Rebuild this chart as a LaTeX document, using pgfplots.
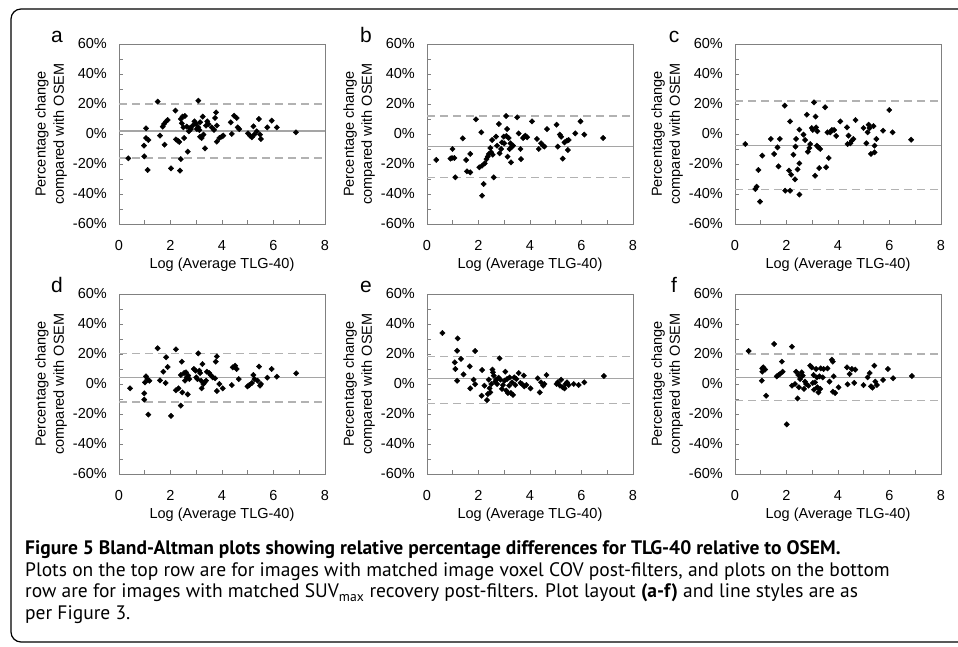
\documentclass[border=0pt]{standalone}
\usepackage{pgfplots}
\pgfplotsset{compat=1.18}
\usepackage{fontspec}
\setmainfont{Liberation Sans}
\newfontfamily\capfont{PT Sans}
\definecolor{axgray}{RGB}{128,128,128}
\definecolor{meangray}{RGB}{165,165,165}
\definecolor{dashgray}{RGB}{178,178,178}
\newcommand{\cf}{\fontsize{14.5}{18}\selectfont}
\pgfplotsset{
  ba/.style={
    scale only axis, width=206pt, height=180pt,
    xmin=0, xmax=8, ymin=-60, ymax=60,
    xtick={0,1,...,8}, xticklabels={0,,2,,4,,6,,8},
    ytick={-60,-50,...,60},
    yticklabels={-60\%,,-40\%,,-20\%,,0\%,,20\%,,40\%,,60\%},
    tick align=inside, tick pos=left, major tick length=3.5pt,
    axis line style={draw=axgray, line width=0.9pt},
    tick style={draw=axgray, line width=0.9pt},
    tick label style={font=\cf, inner sep=0pt},
    xticklabel style={anchor=north, yshift=-16pt},
    yticklabel style={anchor=east, xshift=-12pt},
    anchor=south west,
  },
  meanl/.style={draw=meangray, line width=1.6pt, no marks},
  limitl/.style={draw=dashgray, line width=1.6pt, dash pattern=on 8pt off 5pt, no marks},
  pts/.style={only marks, mark=square*, mark size=1.9pt, mark options={rotate=45, fill=black, draw=black}},
}
\begin{document}
\begin{tikzpicture}
\path[use as bounding box] (0pt,0pt) rectangle (958pt,647pt);
\draw[line width=1.2pt, rounded corners=10pt] (990pt,5pt) -- (11pt,5pt) -- (11pt,638pt) -- (990pt,638pt);

% ---------------- panel a ----------------
\begin{axis}[ba, at={(119pt,423pt)}]
\addplot[limitl] coordinates {(0,20) (8,20)};
\addplot[limitl] coordinates {(0,-16) (8,-16)};
\addplot[meanl] coordinates {(0,2) (8,2)};
\addplot[pts] table {
x y
0.36 -16.2
0.97 -7.8
0.98 -14.9
1.05 3.8
1.05 -2.7
1.11 -24
1.14 -4
1.50 21.6
1.59 -1.1
1.70 4.9
1.75 6.7
1.77 -7.1
1.83 8.4
1.89 9.3
2.02 -22.9
2.19 15.6
2.21 -3.6
2.28 -4.4
2.34 -5.3
2.37 -24.4
2.40 -16.7
2.40 10
2.44 7.1
2.47 11.6
2.50 4.4
2.53 -2.7
2.56 12
2.63 4.9
2.67 -11.8
2.71 1.8
2.76 4
2.79 3.3
2.86 5.6
2.93 8.4
2.99 6.7
3.02 3.3
3.08 4.4
3.08 22.2
3.12 2.7
3.15 7.8
3.15 -1.8
3.21 -2.7
3.25 11.6
3.28 -0.4
3.34 -9.6
3.38 5.6
3.43 8.4
3.47 6.7
3.60 4.4
3.69 2.7
3.73 10.7
3.77 14.4
3.80 5.6
3.80 -5.1
3.90 -2.7
3.99 -1.8
4.05 -1.1
4.34 7.8
4.38 0
4.47 12.2
4.57 10.7
4.61 4.4
4.67 3.3
5.01 0.4
5.09 -1.1
5.16 -2.2
5.22 5.1
5.25 -0.4
5.35 1.8
5.43 10
5.48 -0.4
5.51 -3.3
5.76 4.4
5.93 8.9
6.13 4.4
6.87 1.1
};
\end{axis}

% ---------------- panel b ----------------
\begin{axis}[ba, at={(427pt,423pt)}]
\addplot[limitl] coordinates {(0,12) (8,12)};
\addplot[limitl] coordinates {(0,-29) (8,-29)};
\addplot[meanl] coordinates {(0,-8.4) (8,-8.4)};
\addplot[pts] table {
x y
0.36 -17.3
0.91 -16.4
0.97 -16
1.06 -16
0.99 -10
1.10 -28.9
1.39 -2.9
1.52 -17.3
1.55 -24.9
1.68 -25.6
1.68 -13.3
1.90 9.8
2.03 -22.2
2.11 1.1
2.14 -21.1
2.20 -33.3
2.14 -41.1
2.24 -19.6
2.31 -16.7
2.36 -15.1
2.40 -13.3
2.46 -9.3
2.49 -12.2
2.53 -4
2.55 -13.8
2.59 -28.9
2.68 -1.8
2.72 -7.8
2.79 6.7
2.82 -12.9
2.88 -10
2.91 -5.6
2.98 -1.8
3.00 -6.2
3.07 12
3.08 -1.3
3.11 3.3
3.13 -15.1
3.17 -2.7
3.21 -10
3.24 -6.2
3.26 -18.9
3.30 -8.4
3.34 -7.8
3.50 11.1
3.56 0.4
3.63 -10
3.65 -16.7
3.73 -2.7
3.78 -1.8
3.82 -1.1
3.89 -2.2
4.08 8.4
4.27 -3.3
4.34 -10
4.43 -6.2
4.51 -7.8
4.56 -8.4
4.66 3.3
5.03 6.2
5.08 -8.4
5.16 -0.4
5.21 -1.8
5.27 -16.4
5.34 -5.6
5.44 -4.4
5.50 -4
5.47 -10.7
5.76 0.4
5.96 8.4
6.11 -0.4
6.84 -2.7
};
\end{axis}

% ---------------- panel c ----------------
\begin{axis}[ba, at={(735pt,423pt)}]
\addplot[limitl] coordinates {(0,21.8) (8,21.8)};
\addplot[limitl] coordinates {(0,-36.9) (8,-36.9)};
\addplot[meanl] coordinates {(0,-7.8) (8,-7.8)};
\addplot[pts] table {
x y
0.40 -6.7
0.79 -36.7
0.84 -35.1
0.91 -24
0.97 -45.1
1.06 -14.4
1.39 -3.3
1.52 -13.3
1.65 -8.9
1.69 -21.6
1.74 -3.3
1.93 18.9
1.95 -37.8
2.14 8.4
2.14 -37.8
2.10 -24.4
2.18 -27.1
2.27 -13.8
2.33 -30.2
2.35 -8.4
2.37 -3.3
2.43 -23.6
2.50 2.9
2.50 -19.6
2.50 -40.4
2.66 -0.4
2.72 -4
2.79 12.9
2.83 -11.8
2.89 -9.3
2.92 -6.7
2.98 4
3.02 2.7
3.07 21.1
3.11 -27.8
3.13 11.6
3.15 4.4
3.18 -7.8
3.20 1.8
3.24 -8.9
3.27 -22.7
3.31 -10
3.50 17.8
3.54 -22.2
3.59 1.1
3.64 -16
3.70 1.1
3.76 2.7
3.85 2.7
3.93 -1.3
4.09 8.4
4.35 4.4
4.41 -1.1
4.37 -6.7
4.48 -6.2
4.54 -4.4
4.60 -3.3
4.68 9.3
4.99 4
5.10 -6.2
5.15 1.1
5.19 6.2
5.23 4
5.28 -13.3
5.38 5.3
5.42 -7.8
5.42 -12.2
5.49 -3.3
5.75 2.2
5.99 16
6.12 1.1
6.84 -3.8
};
\end{axis}

% ---------------- panel d ----------------
\begin{axis}[ba, at={(119pt,173pt)}]
\addplot[limitl] coordinates {(0,20.2) (8,20.2)};
\addplot[limitl] coordinates {(0,-12.2) (8,-12.2)};
\addplot[meanl] coordinates {(0,4.2) (8,4.2)};
\addplot[pts] table {
x y
0.43 -2.9
0.98 -6.2
0.98 -10.4
1.01 1.1
1.05 5.1
1.10 3.3
1.18 2.2
1.14 -20.4
1.50 23.8
1.59 2.4
1.72 8.2
1.81 0.7
1.83 17.8
1.89 11.3
2.02 -21.3
2.21 23.1
2.21 -4.2
2.31 -2.9
2.40 -14.4
2.44 14.9
2.40 6
2.46 -5.6
2.53 7.3
2.56 2.2
2.60 7.8
2.63 4.4
2.67 -6.9
2.69 5.6
2.73 3.3
2.91 10
2.97 8.9
3.00 4.4
3.04 3.3
3.08 20.4
3.12 8.9
3.15 7.3
3.19 2.2
3.21 -2.9
3.24 13.3
3.28 0
3.32 1.1
3.38 2.2
3.41 8.2
3.50 7.3
3.56 6
3.64 4.4
3.73 3.8
3.76 14.9
3.80 18.4
3.80 -4.7
3.90 0
4.03 -2.9
4.38 -0.7
4.42 11.1
4.51 12.2
4.57 10
4.65 3.3
4.99 -1.6
5.06 -0.7
5.16 0.7
5.22 6
5.26 3.3
5.38 2.2
5.44 11.6
5.48 -1.1
5.51 0
5.76 4.2
5.93 10
6.13 4.9
6.88 7.1
};
\end{axis}

% ---------------- panel e ----------------
\begin{axis}[ba, at={(427pt,173pt)}]
\addplot[limitl] coordinates {(0,18.2) (8,18.2)};
\addplot[limitl] coordinates {(0,-13.1) (8,-13.1)};
\addplot[meanl] coordinates {(0,3.6) (8,3.6)};
\addplot[pts] table {
x y
0.60 34
1.19 30.4
1.17 22.2
1.32 16.7
1.08 14.4
1.10 10
1.17 2.2
1.42 6.4
1.66 11.8
1.68 -2.9
1.81 2.9
1.87 -0.2
1.87 22
2.14 9.3
2.12 -7.8
2.23 -1.1
2.33 -10.7
2.36 -6.7
2.40 2.9
2.43 -2.9
2.46 -5.6
2.50 0
2.54 9.6
2.56 7.8
2.59 5.6
2.65 1.6
2.69 2.9
2.72 0
2.78 4.2
2.82 17.1
2.85 2.9
2.91 -3.3
2.95 -0.7
3.01 2.2
3.04 8.2
3.08 -4.4
3.11 3.3
3.14 -6
3.19 -1.1
3.21 4.4
3.26 -6
3.30 1.1
3.34 -7.3
3.39 4.4
3.43 -0.7
3.47 3.3
3.56 7.3
3.63 0.7
3.69 0
3.76 5.6
3.78 -1.6
3.86 -0.7
4.02 -2.9
4.30 3.8
4.38 -5.6
4.43 1.1
4.51 -1.1
4.56 0
4.64 6
5.03 0
5.08 1.1
5.16 -1.1
5.21 2.9
5.27 -2.2
5.34 -2.9
5.38 0
5.44 1.1
5.50 -0.7
5.70 0
5.89 -0.7
6.11 1.1
6.87 5.3
};
\end{axis}

% ---------------- panel f ----------------
\begin{axis}[ba, at={(735pt,173pt)}]
\addplot[limitl] coordinates {(0,19.8) (8,19.8)};
\addplot[limitl] coordinates {(0,-11.1) (8,-11.1)};
\addplot[meanl] coordinates {(0,4.4) (8,4.4)};
\addplot[pts] table {
x y
0.53 22
1.04 2.2
1.06 8.2
1.10 11.1
1.17 9.6
1.06 10.4
1.21 -7.8
1.52 26.7
1.62 5.1
1.69 6
1.75 6.7
1.82 14.9
1.85 8.2
2.01 -26.9
2.21 24.9
2.21 -1.1
2.33 0
2.37 8.2
2.43 -9.6
2.46 6
2.48 -2.2
2.53 3.3
2.59 7.8
2.63 5.6
2.68 -3.3
2.72 1.6
2.76 0
2.85 -1.1
2.92 12.2
2.98 11.1
3.02 0.7
3.05 6
3.07 -3.8
3.11 1.1
3.15 10
3.18 4.4
3.20 -2.2
3.24 -5.6
3.28 5.1
3.31 -3.3
3.33 10.4
3.41 4.4
3.44 10
3.59 10.4
3.67 1.6
3.76 16.2
3.80 14.9
3.80 -5.1
3.83 5.1
3.89 -6
4.02 -2.2
4.35 11.1
4.37 -0.2
4.45 6.7
4.54 10
4.63 0.7
4.67 9.6
4.99 -0.7
5.15 4.4
5.23 7.3
5.28 -1.6
5.34 -2.4
5.41 12.2
5.45 1.6
5.51 -0.7
5.75 2.7
5.94 10
6.14 3.8
6.87 5.3
};
\end{axis}

% ---------------- panel labels ----------------
\foreach \px/\py/\l in {57/604.5/a, 366/604.5/b, 674/604.5/c, 57/354.5/d, 366/354.5/e, 674/354.5/f}{
  \node[anchor=base, inner sep=0pt, font=\fontsize{21}{24}\selectfont] at (\px pt,\py pt) {\l};
}
\foreach \px/\py in {51/513, 359/513, 667/513, 51/263, 359/263, 667/263}{
  \node[rotate=90, align=center, inner sep=0pt, font=\cf] at (\px pt,\py pt) {Percentage change\\compared with OSEM};
}
\foreach \px/\py in {222/382, 530/382, 838/382, 222/132, 530/132, 838/132}{
  \node[inner sep=0pt, font=\cf] at (\px pt,\py pt) {Log (Average TLG-40)};
}

% ---------------- caption ----------------
\begin{scope}[every node/.style={anchor=base west, inner sep=0pt, font=\capfont\fontsize{19.5}{22}\selectfont}]
\node at (25pt,92pt) {\bfseries Figure 5 Bland-Altman plots showing relative percentage differences for TLG-40 relative to OSEM.};
\node at (25pt,70pt) {Plots on the top row are for images with matched image voxel COV post-filters, and plots on the bottom};
\node at (25pt,49pt) {row are for images with matched SUV\textsubscript{max} recovery post-filters. Plot layout \textbf{(a-f)} and line styles are as};
\node at (25pt,27pt) {per Figure 3.};
\end{scope}
\end{tikzpicture}
\end{document}
